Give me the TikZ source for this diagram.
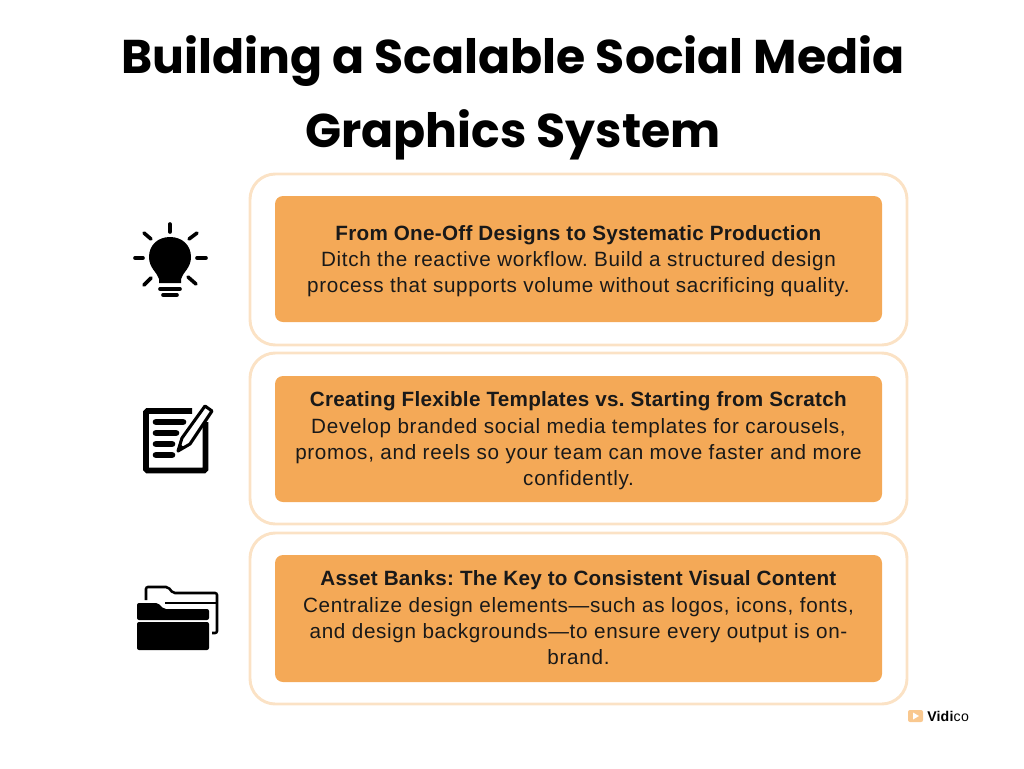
\documentclass[tikz,border=0pt]{standalone}
\usepackage{fontspec}
\setmainfont[LetterSpace=3.3,BoldFeatures={LetterSpace=1.3}]{Liberation Sans}
\newfontfamily\titlefont{Poppins}
\definecolor{framepeach}{HTML}{FBE2C5}
\definecolor{boxorange}{HTML}{F4A957}
\definecolor{logoorange}{HTML}{F9C88F}
\tikzset{
  framebox/.style={draw=framepeach, line width=2.2pt, rounded corners=19pt},
  fillbox/.style={fill=boxorange, rounded corners=6pt},
  titletext/.style={align=center, font=\titlefont\fontsize{35.5}{55.5}\selectfont\bfseries},
  cardtext/.style={align=center, text=black!90, font=\frenchspacing\fontsize{15.5}{19.7}\selectfont},
  iconline/.style={line width=2.7pt, line cap=round},
}
\begin{document}
\begin{tikzpicture}[x=0.75pt, y=-0.75pt]
\useasboundingbox (0,0) rectangle (1024,768);

% Draw the title
\node[titletext] (title) at (513,98) {Building a Scalable Social Media\\Graphics System};

% Draw the three cards
\draw[framebox] (250,174) rectangle +(657,171);
\fill[fillbox] (275,196) rectangle +(607,126);
\node[cardtext] (cardone) at (578.5,261) {\textbf{From One-Off Designs to Systematic Production}\\Ditch the reactive workflow. Build a structured design\\process that supports volume without sacrificing quality.};

\draw[framebox] (250,353) rectangle +(657,171);
\fill[fillbox] (275,376) rectangle +(607,126);
\node[cardtext] (cardtwo) at (578.5,441) {\textbf{Creating Flexible Templates vs. Starting from Scratch}\\Develop branded social media templates for carousels,\\promos, and reels so your team can move faster and more\\confidently.};

\draw[framebox] (250,533) rectangle +(657,171);
\fill[fillbox] (275,555) rectangle +(607,127);
\node[cardtext] (cardthree) at (578.5,618) {\textbf{Asset Banks: The Key to Consistent Visual Content}\\Centralize design elements---such as logos, icons, fonts,\\and design backgrounds---to ensure every output is on-\\brand.};

% Draw the bulb icon
\fill (159,283) -- (159,279) .. controls (157,272) and (149,268) .. (149,257) .. controls (149,245) and (158,237) .. (170,237) .. controls (182,237) and (191,245) .. (191,257) .. controls (191,268) and (183,272) .. (181,279) -- (181,283) -- cycle;
\draw[iconline] (170,224) -- (170,232);
\draw[iconline] (135,258) -- (143,258);
\draw[iconline] (197,258) -- (206,258);
\draw[iconline] (144,233) -- (151,239);
\draw[iconline] (197,233) -- (189,239);
\draw[iconline] (144,285) -- (151,278);
\draw[iconline] (196,284) -- (188,277);
\draw[iconline] (160,289) -- (180,289);
\draw[iconline] (163,295) -- (177,295);

% Draw the note icon
\draw[line width=4.2pt, rounded corners=1pt] (192,411) -- (146,411) -- (146,470.5) -- (205.5,470.5) -- (205.5,422);
\foreach \y/\xend in {422/183, 433/176, 444/172, 455/172}
  \draw[line width=5pt, line cap=round] (156,\y) -- (\xend,\y);
\draw[fill=white, line width=2.3pt, line join=round] (178,451) -- (182,438) -- (205,406) -- (212,411) -- (190,444) -- cycle;
\fill (178,451) -- (180,444) -- (185,448) -- cycle;

% Draw the folder icon
\draw[line width=1.9pt, rounded corners=1.5pt] (146,600) -- (146,587) -- (168,587) -- (173,593) -- (217,593) -- (217,633) -- (212,633);
\draw[line width=1.2pt] (165,603) -- (217,603);
\fill[rounded corners=1.5pt] (137,620) -- (137,603) -- (158,603) -- (164,609) -- (209,609) -- (209,620) -- cycle;
\fill[rounded corners=1.5pt] (137,622) rectangle (209,650);

% Draw the logo
\fill[logoorange, rounded corners=1.5pt] (908,710) rectangle +(15,12);
\fill[white] (913,712.5) -- (913,719.5) -- (919,716) -- cycle;
\node[anchor=west, inner sep=0pt, font=\fontsize{10.6}{12}\selectfont] (logo) at (927,716) {\textbf{Vidi}co};
\end{tikzpicture}
\end{document}
